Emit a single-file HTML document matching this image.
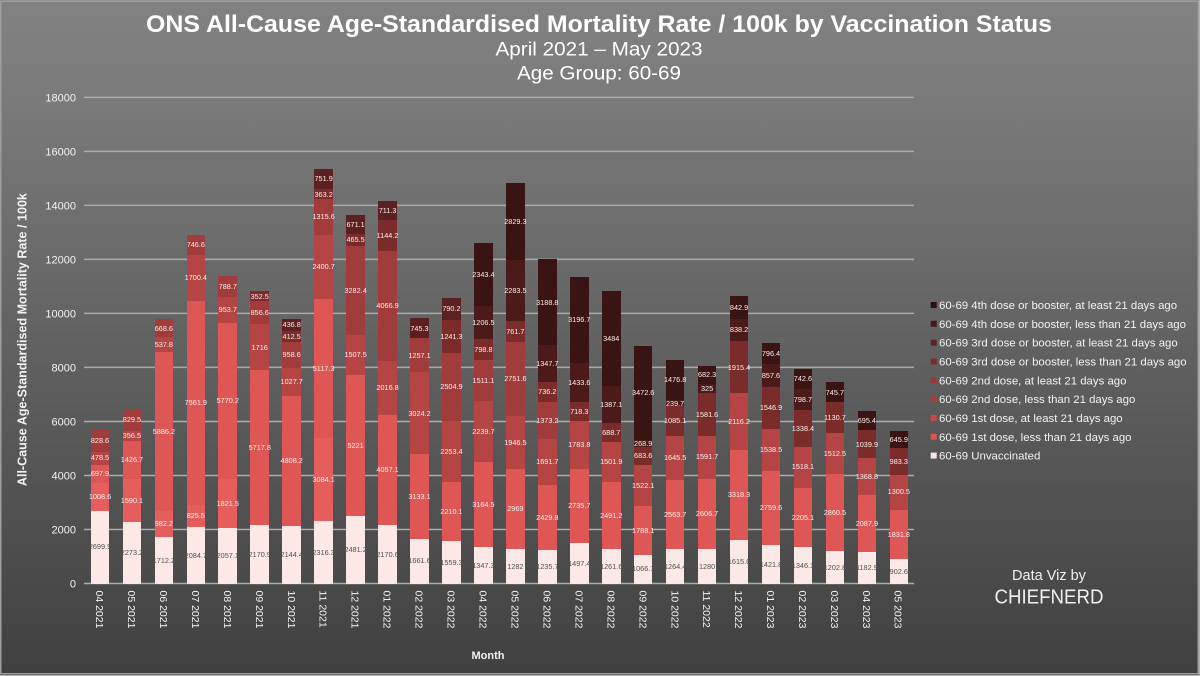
<!DOCTYPE html>
<html>
<head>
<meta charset="utf-8">
<style>
  html,body{margin:0;padding:0;}
  body{width:1200px;height:676px;overflow:hidden;background:#b0b0b0;position:relative;font-family:"Liberation Sans",Arial,sans-serif;}
  svg.bg{position:absolute;left:0;top:0;}
  #plot{position:absolute;left:84px;top:0;width:831px;height:583.5px;display:flex;align-items:flex-end;}
  .col{flex:0 0 31.96px;width:31.96px;display:flex;justify-content:center;align-items:flex-end;height:100%;}
  .bar{width:18.6px;display:flex;flex-direction:column-reverse;}
  .s{height:calc(var(--v) * 0.02701px);flex:none;display:flex;align-items:center;justify-content:center;overflow:visible;}
  .s span{position:relative;z-index:2;font-size:7.3px;line-height:1;white-space:nowrap;color:#fbeeee;}
  .u{background:#fce8e7;}
  .u span{color:#505050;}
  .c2{background:#e65d5d;}
  .c3{background:#df5656;}
  .c4{background:#b54444;}
  .c5{background:#a23b3b;}
  .c6{background:#7c2b2b;}
  .c7{background:#5c2020;}
  .c8{background:#4b1a1a;}
  .c9{background:#3a1314;}
</style>
</head>
<body>
<svg class="bg" width="1200" height="676" xmlns="http://www.w3.org/2000/svg" font-family="Liberation Sans, Arial, sans-serif">
  <defs>
    <linearGradient id="g" x1="0" y1="0" x2="0" y2="1">
      <stop offset="0" stop-color="#828282"/>
      <stop offset="0.15" stop-color="#7a7a7a"/>
      <stop offset="1" stop-color="#404040"/>
    </linearGradient>
  </defs>
  <rect x="0" y="0" width="1199" height="675" fill="url(#g)"/>
  <rect x="0.75" y="1.25" width="1197.5" height="672.5" fill="none" stroke="#9e9e9e" stroke-width="1.5"/>

  <!-- title -->
  <text x="599" y="32" text-anchor="middle" font-weight="bold" font-size="24.5" textLength="906" lengthAdjust="spacingAndGlyphs" fill="#ffffff">ONS All-Cause Age-Standardised Mortality Rate / 100k by Vaccination Status</text>
  <text x="599" y="55.5" text-anchor="middle" font-size="19" textLength="207" lengthAdjust="spacingAndGlyphs" fill="#ffffff">April 2021 – May 2023</text>
  <text x="599" y="79.5" text-anchor="middle" font-size="19" textLength="164" lengthAdjust="spacingAndGlyphs" fill="#ffffff">Age Group: 60-69</text>

  <!-- gridlines -->
  <g stroke="#ababab" stroke-width="1.5">
    <line x1="84" x2="914" y1="583.5" y2="583.5"/>
    <line x1="84" x2="914" y1="529.48" y2="529.48"/>
    <line x1="84" x2="914" y1="475.46" y2="475.46"/>
    <line x1="84" x2="914" y1="421.44" y2="421.44"/>
    <line x1="84" x2="914" y1="367.42" y2="367.42"/>
    <line x1="84" x2="914" y1="313.4" y2="313.4"/>
    <line x1="84" x2="914" y1="259.38" y2="259.38"/>
    <line x1="84" x2="914" y1="205.36" y2="205.36"/>
    <line x1="84" x2="914" y1="151.34" y2="151.34"/>
    <line x1="84" x2="914" y1="97.32" y2="97.32"/>
  </g>

  <!-- y tick labels -->
  <g font-size="11" fill="#f2f2f2" text-anchor="end">
    <text x="76" y="587.5">0</text>
    <text x="76" y="533.5">2000</text>
    <text x="76" y="479.5">4000</text>
    <text x="76" y="425.4">6000</text>
    <text x="76" y="371.4">8000</text>
    <text x="76" y="317.4">10000</text>
    <text x="76" y="263.4">12000</text>
    <text x="76" y="209.4">14000</text>
    <text x="76" y="155.3">16000</text>
    <text x="76" y="101.3">18000</text>
  </g>

  <!-- y axis title -->
  <text transform="translate(26.5,339.6) rotate(-90)" text-anchor="middle" font-weight="bold" font-size="12.5" textLength="293" lengthAdjust="spacingAndGlyphs" fill="#f2f2f2">All-Cause Age-Standardised Mortality Rate / 100k</text>

  <!-- x tick labels -->
  <g font-size="10.5" fill="#f2f2f2">
    <text transform="translate(96,590.5) rotate(90)">04 2021</text>
    <text transform="translate(127.96,590.5) rotate(90)">05 2021</text>
    <text transform="translate(159.92,590.5) rotate(90)">06 2021</text>
    <text transform="translate(191.88,590.5) rotate(90)">07 2021</text>
    <text transform="translate(223.84,590.5) rotate(90)">08 2021</text>
    <text transform="translate(255.8,590.5) rotate(90)">09 2021</text>
    <text transform="translate(287.76,590.5) rotate(90)">10 2021</text>
    <text transform="translate(319.72,590.5) rotate(90)">11 2021</text>
    <text transform="translate(351.68,590.5) rotate(90)">12 2021</text>
    <text transform="translate(383.64,590.5) rotate(90)">01 2022</text>
    <text transform="translate(415.6,590.5) rotate(90)">02 2022</text>
    <text transform="translate(447.56,590.5) rotate(90)">03 2022</text>
    <text transform="translate(479.52,590.5) rotate(90)">04 2022</text>
    <text transform="translate(511.48,590.5) rotate(90)">05 2022</text>
    <text transform="translate(543.44,590.5) rotate(90)">06 2022</text>
    <text transform="translate(575.4,590.5) rotate(90)">07 2022</text>
    <text transform="translate(607.36,590.5) rotate(90)">08 2022</text>
    <text transform="translate(639.32,590.5) rotate(90)">09 2022</text>
    <text transform="translate(671.28,590.5) rotate(90)">10 2022</text>
    <text transform="translate(703.24,590.5) rotate(90)">11 2022</text>
    <text transform="translate(735.2,590.5) rotate(90)">12 2022</text>
    <text transform="translate(767.16,590.5) rotate(90)">01 2023</text>
    <text transform="translate(799.12,590.5) rotate(90)">02 2023</text>
    <text transform="translate(831.08,590.5) rotate(90)">03 2023</text>
    <text transform="translate(863.04,590.5) rotate(90)">04 2023</text>
    <text transform="translate(894.5,590.5) rotate(90)">05 2023</text>
  </g>

  <!-- x axis title -->
  <text x="488" y="659" text-anchor="middle" font-weight="bold" font-size="11" fill="#f2f2f2">Month</text>

  <!-- legend -->
  <g font-size="11.4" fill="#f2f2f2">
    <rect x="930.7" y="302" width="6" height="6" fill="#2e0e0f"/>
    <text x="939" y="309">60-69 4th dose or booster, at least 21 days ago</text>
    <rect x="930.7" y="320.8" width="6" height="6" fill="#4a1a1a"/>
    <text x="939" y="327.8">60-69 4th dose or booster, less than 21 days ago</text>
    <rect x="930.7" y="339.7" width="6" height="6" fill="#5e2222"/>
    <text x="939" y="346.7">60-69 3rd dose or booster, at least 21 days ago</text>
    <rect x="930.7" y="358.5" width="6" height="6" fill="#7a2b2b"/>
    <text x="939" y="365.5">60-69 3rd dose or booster, less than 21 days ago</text>
    <rect x="930.7" y="377.3" width="6" height="6" fill="#9a3636"/>
    <text x="939" y="384.3">60-69 2nd dose, at least 21 days ago</text>
    <rect x="930.7" y="396.2" width="6" height="6" fill="#ab3c3c"/>
    <text x="939" y="403.2">60-69 2nd dose, less than 21 days ago</text>
    <rect x="930.7" y="415" width="6" height="6" fill="#cc4848"/>
    <text x="939" y="422">60-69 1st dose, at least 21 days ago</text>
    <rect x="930.7" y="433.8" width="6" height="6" fill="#e35050"/>
    <text x="939" y="440.8">60-69 1st dose, less than 21 days ago</text>
    <rect x="930.7" y="452.6" width="6" height="6" fill="#f8e6e6"/>
    <text x="939" y="459.6">60-69 Unvaccinated</text>
  </g>

  <!-- credit -->
  <text x="1049" y="580" text-anchor="middle" font-size="14.5" fill="#f0f0f0">Data Viz by</text>
  <text x="1049" y="603.3" text-anchor="middle" font-size="20" textLength="109" lengthAdjust="spacingAndGlyphs" fill="#f0f0f0">CHIEFNERD</text>
</svg>

<div id="plot">
  <div class="col"><div class="bar">
    <div class="s u" style="--v:2699.9"><span>2699.9</span></div>
    <div class="s c2" style="--v:1008.6"><span>1008.6</span></div>
    <div class="s c3" style="--v:697.9"><span>697.9</span></div>
    <div class="s c4" style="--v:478.5"><span>478.5</span></div>
    <div class="s c5" style="--v:828.6"><span>828.6</span></div>
  </div></div>
  <div class="col"><div class="bar">
    <div class="s u" style="--v:2273.2"><span>2273.2</span></div>
    <div class="s c2" style="--v:1590.1"><span>1590.1</span></div>
    <div class="s c3" style="--v:1426.7"><span>1426.7</span></div>
    <div class="s c4" style="--v:356.5"><span>356.5</span></div>
    <div class="s c5" style="--v:829.5"><span>829.5</span></div>
  </div></div>
  <div class="col"><div class="bar">
    <div class="s u" style="--v:1712.2"><span>1712.2</span></div>
    <div class="s c2" style="--v:982.2"><span>982.2</span></div>
    <div class="s c3" style="--v:5886.2"><span>5886.2</span></div>
    <div class="s c4" style="--v:537.8"><span>537.8</span></div>
    <div class="s c5" style="--v:668.6"><span>668.6</span></div>
  </div></div>
  <div class="col"><div class="bar">
    <div class="s u" style="--v:2084.7"><span>2084.7</span></div>
    <div class="s c2" style="--v:825.5"><span>825.5</span></div>
    <div class="s c3" style="--v:7561.9"><span>7561.9</span></div>
    <div class="s c4" style="--v:1700.4"><span>1700.4</span></div>
    <div class="s c5" style="--v:746.6"><span>746.6</span></div>
  </div></div>
  <div class="col"><div class="bar">
    <div class="s u" style="--v:2057.1"><span>2057.1</span></div>
    <div class="s c2" style="--v:1821.5"><span>1821.5</span></div>
    <div class="s c3" style="--v:5770.2"><span>5770.2</span></div>
    <div class="s c4" style="--v:953.7"><span>953.7</span></div>
    <div class="s c5" style="--v:788.7"><span>788.7</span></div>
  </div></div>
  <div class="col"><div class="bar">
    <div class="s u" style="--v:2170.9"><span>2170.9</span></div>
    <div class="s c3" style="--v:5717.8"><span>5717.8</span></div>
    <div class="s c4" style="--v:1716"><span>1716</span></div>
    <div class="s c5" style="--v:856.6"><span>856.6</span></div>
    <div class="s c6" style="--v:352.5"><span>352.5</span></div>
  </div></div>
  <div class="col"><div class="bar">
    <div class="s u" style="--v:2144.4"><span>2144.4</span></div>
    <div class="s c3" style="--v:4808.2"><span>4808.2</span></div>
    <div class="s c4" style="--v:1027.7"><span>1027.7</span></div>
    <div class="s c5" style="--v:958.6"><span>958.6</span></div>
    <div class="s c6" style="--v:412.5"><span>412.5</span></div>
    <div class="s c7" style="--v:436.8"><span>436.8</span></div>
  </div></div>
  <div class="col"><div class="bar">
    <div class="s u" style="--v:2316.3"><span>2316.3</span></div>
    <div class="s c2" style="--v:3084.1"><span>3084.1</span></div>
    <div class="s c3" style="--v:5117.3"><span>5117.3</span></div>
    <div class="s c4" style="--v:2400.7"><span>2400.7</span></div>
    <div class="s c5" style="--v:1315.6"><span>1315.6</span></div>
    <div class="s c6" style="--v:363.2"><span>363.2</span></div>
    <div class="s c7" style="--v:751.9"><span>751.9</span></div>
  </div></div>
  <div class="col"><div class="bar">
    <div class="s u" style="--v:2481.2"><span>2481.2</span></div>
    <div class="s c3" style="--v:5221"><span>5221</span></div>
    <div class="s c4" style="--v:1507.5"><span>1507.5</span></div>
    <div class="s c5" style="--v:3282.4"><span>3282.4</span></div>
    <div class="s c6" style="--v:465.5"><span>465.5</span></div>
    <div class="s c7" style="--v:671.1"><span>671.1</span></div>
  </div></div>
  <div class="col"><div class="bar">
    <div class="s u" style="--v:2170.6"><span>2170.6</span></div>
    <div class="s c3" style="--v:4057.1"><span>4057.1</span></div>
    <div class="s c4" style="--v:2016.8"><span>2016.8</span></div>
    <div class="s c5" style="--v:4066.9"><span>4066.9</span></div>
    <div class="s c6" style="--v:1144.2"><span>1144.2</span></div>
    <div class="s c7" style="--v:711.3"><span>711.3</span></div>
  </div></div>
  <div class="col"><div class="bar">
    <div class="s u" style="--v:1661.6"><span>1661.6</span></div>
    <div class="s c3" style="--v:3133.1"><span>3133.1</span></div>
    <div class="s c4" style="--v:3024.2"><span>3024.2</span></div>
    <div class="s c5" style="--v:1257.1"><span>1257.1</span></div>
    <div class="s c7" style="--v:745.3"><span>745.3</span></div>
  </div></div>
  <div class="col"><div class="bar">
    <div class="s u" style="--v:1559.3"><span>1559.3</span></div>
    <div class="s c3" style="--v:2210.1"><span>2210.1</span></div>
    <div class="s c4" style="--v:2253.4"><span>2253.4</span></div>
    <div class="s c5" style="--v:2504.9"><span>2504.9</span></div>
    <div class="s c6" style="--v:1241.3"><span>1241.3</span></div>
    <div class="s c7" style="--v:790.2"><span>790.2</span></div>
  </div></div>
  <div class="col"><div class="bar">
    <div class="s u" style="--v:1347.3"><span>1347.3</span></div>
    <div class="s c3" style="--v:3164.5"><span>3164.5</span></div>
    <div class="s c4" style="--v:2239.7"><span>2239.7</span></div>
    <div class="s c5" style="--v:1511.1"><span>1511.1</span></div>
    <div class="s c6" style="--v:798.8"><span>798.8</span></div>
    <div class="s c8" style="--v:1206.5"><span>1206.5</span></div>
    <div class="s c9" style="--v:2343.4"><span>2343.4</span></div>
  </div></div>
  <div class="col"><div class="bar">
    <div class="s u" style="--v:1282"><span>1282</span></div>
    <div class="s c3" style="--v:2969"><span>2969</span></div>
    <div class="s c4" style="--v:1946.5"><span>1946.5</span></div>
    <div class="s c5" style="--v:2751.6"><span>2751.6</span></div>
    <div class="s c6" style="--v:761.7"><span>761.7</span></div>
    <div class="s c8" style="--v:2283.5"><span>2283.5</span></div>
    <div class="s c9" style="--v:2829.3"><span>2829.3</span></div>
  </div></div>
  <div class="col"><div class="bar">
    <div class="s u" style="--v:1235.7"><span>1235.7</span></div>
    <div class="s c3" style="--v:2429.8"><span>2429.8</span></div>
    <div class="s c4" style="--v:1691.7"><span>1691.7</span></div>
    <div class="s c5" style="--v:1373.2"><span>1373.2</span></div>
    <div class="s c6" style="--v:736.2"><span>736.2</span></div>
    <div class="s c8" style="--v:1347.7"><span>1347.7</span></div>
    <div class="s c9" style="--v:3188.8"><span>3188.8</span></div>
  </div></div>
  <div class="col"><div class="bar">
    <div class="s u" style="--v:1497.4"><span>1497.4</span></div>
    <div class="s c3" style="--v:2735.7"><span>2735.7</span></div>
    <div class="s c4" style="--v:1783.8"><span>1783.8</span></div>
    <div class="s c6" style="--v:718.3"><span>718.3</span></div>
    <div class="s c8" style="--v:1433.6"><span>1433.6</span></div>
    <div class="s c9" style="--v:3196.7"><span>3196.7</span></div>
  </div></div>
  <div class="col"><div class="bar">
    <div class="s u" style="--v:1261.6"><span>1261.6</span></div>
    <div class="s c3" style="--v:2491.2"><span>2491.2</span></div>
    <div class="s c4" style="--v:1501.9"><span>1501.9</span></div>
    <div class="s c6" style="--v:688.7"><span>688.7</span></div>
    <div class="s c8" style="--v:1387.1"><span>1387.1</span></div>
    <div class="s c9" style="--v:3484"><span>3484</span></div>
  </div></div>
  <div class="col"><div class="bar">
    <div class="s u" style="--v:1066.7"><span>1066.7</span></div>
    <div class="s c3" style="--v:1788.1"><span>1788.1</span></div>
    <div class="s c4" style="--v:1522.1"><span>1522.1</span></div>
    <div class="s c6" style="--v:683.6"><span>683.6</span></div>
    <div class="s c8" style="--v:268.9"><span>268.9</span></div>
    <div class="s c9" style="--v:3472.6"><span>3472.6</span></div>
  </div></div>
  <div class="col"><div class="bar">
    <div class="s u" style="--v:1264.4"><span>1264.4</span></div>
    <div class="s c3" style="--v:2563.7"><span>2563.7</span></div>
    <div class="s c4" style="--v:1645.5"><span>1645.5</span></div>
    <div class="s c6" style="--v:1085.1"><span>1085.1</span></div>
    <div class="s c8" style="--v:239.7"><span>239.7</span></div>
    <div class="s c9" style="--v:1476.8"><span>1476.8</span></div>
  </div></div>
  <div class="col"><div class="bar">
    <div class="s u" style="--v:1280"><span>1280</span></div>
    <div class="s c3" style="--v:2606.7"><span>2606.7</span></div>
    <div class="s c4" style="--v:1591.7"><span>1591.7</span></div>
    <div class="s c6" style="--v:1581.6"><span>1581.6</span></div>
    <div class="s c8" style="--v:325"><span>325</span></div>
    <div class="s c9" style="--v:682.3"><span>682.3</span></div>
  </div></div>
  <div class="col"><div class="bar">
    <div class="s u" style="--v:1615.6"><span>1615.6</span></div>
    <div class="s c3" style="--v:3318.3"><span>3318.3</span></div>
    <div class="s c4" style="--v:2116.2"><span>2116.2</span></div>
    <div class="s c6" style="--v:1915.4"><span>1915.4</span></div>
    <div class="s c8" style="--v:838.2"><span>838.2</span></div>
    <div class="s c9" style="--v:842.9"><span>842.9</span></div>
  </div></div>
  <div class="col"><div class="bar">
    <div class="s u" style="--v:1421.8"><span>1421.8</span></div>
    <div class="s c3" style="--v:2759.6"><span>2759.6</span></div>
    <div class="s c4" style="--v:1538.5"><span>1538.5</span></div>
    <div class="s c6" style="--v:1546.9"><span>1546.9</span></div>
    <div class="s c8" style="--v:857.6"><span>857.6</span></div>
    <div class="s c9" style="--v:796.4"><span>796.4</span></div>
  </div></div>
  <div class="col"><div class="bar">
    <div class="s u" style="--v:1346.1"><span>1346.1</span></div>
    <div class="s c3" style="--v:2205.1"><span>2205.1</span></div>
    <div class="s c4" style="--v:1518.1"><span>1518.1</span></div>
    <div class="s c6" style="--v:1338.4"><span>1338.4</span></div>
    <div class="s c8" style="--v:798.7"><span>798.7</span></div>
    <div class="s c9" style="--v:742.6"><span>742.6</span></div>
  </div></div>
  <div class="col"><div class="bar">
    <div class="s u" style="--v:1202.8"><span>1202.8</span></div>
    <div class="s c3" style="--v:2860.5"><span>2860.5</span></div>
    <div class="s c4" style="--v:1512.5"><span>1512.5</span></div>
    <div class="s c6" style="--v:1130.7"><span>1130.7</span></div>
    <div class="s c9" style="--v:745.7"><span>745.7</span></div>
  </div></div>
  <div class="col"><div class="bar">
    <div class="s u" style="--v:1182.9"><span>1182.9</span></div>
    <div class="s c3" style="--v:2087.9"><span>2087.9</span></div>
    <div class="s c4" style="--v:1368.8"><span>1368.8</span></div>
    <div class="s c6" style="--v:1039.9"><span>1039.9</span></div>
    <div class="s c9" style="--v:695.4"><span>695.4</span></div>
  </div></div>
  <div class="col"><div class="bar">
    <div class="s u" style="--v:902.6"><span>902.6</span></div>
    <div class="s c3" style="--v:1831.8"><span>1831.8</span></div>
    <div class="s c4" style="--v:1300.5"><span>1300.5</span></div>
    <div class="s c6" style="--v:983.3"><span>983.3</span></div>
    <div class="s c9" style="--v:645.9"><span>645.9</span></div>
  </div></div>
</div>
</body>
</html>
